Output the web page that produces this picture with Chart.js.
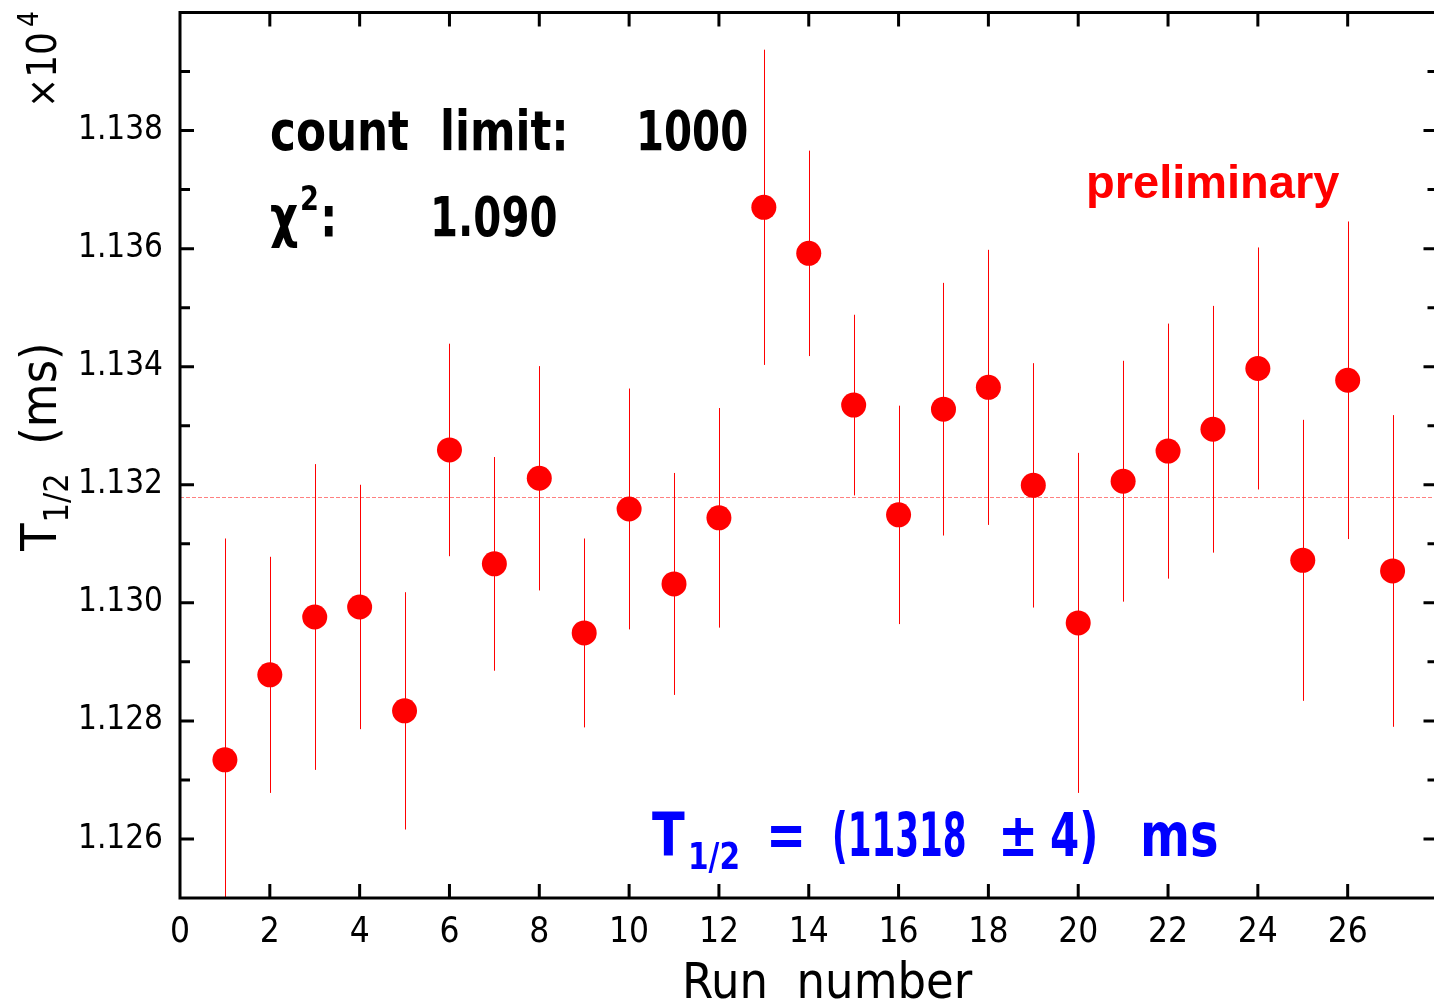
<!DOCTYPE html>
<html>
<head>
<meta charset="utf-8">
<script src="https://cdn.jsdelivr.net/npm/chart.js@4/dist/chart.umd.min.js"></script>
<style>
  html, body { margin: 0; padding: 0; background: #fff; overflow: hidden; }
  #wrap { width: 1434px; height: 1004px; overflow: hidden; position: relative; }
  #wrap canvas { position: absolute; left: 0; top: 0; }
</style>
</head>
<body>
<div id="wrap"><canvas id="c" width="1450" height="1004"></canvas></div>
<script>
// Half-life per run, in units of 10^4 ms
const runs = [1,2,3,4,5,6,7,8,9,10,11,12,13,14,15,16,17,18,19,20,21,22,23,24,25,26,27];
const halfLife = [1.12734,1.12878,1.12976,1.12993,1.12817,1.13259,1.13066,1.13211,1.12949,1.13159,
                  1.13032,1.13144,1.13670,1.13592,1.13335,1.13149,1.13328,1.13365,1.13199,1.12966,
                  1.13206,1.13257,1.13294,1.13397,1.13072,1.13377,1.13054];
const halfLifeErr = [0.00375,0.00200,0.00259,0.00207,0.00201,0.00180,0.00181,0.00190,0.00160,0.00204,
                     0.00188,0.00186,0.00267,0.00174,0.00153,0.00185,0.00214,0.00233,0.00207,0.00288,
                     0.00204,0.00216,0.00209,0.00205,0.00238,0.00269,0.00264];
const meanHalfLife = 1.1318;

const xTicks = [0,2,4,6,8,10,12,14,16,18,20,22,24,26];
const yTicks = [1.126,1.128,1.130,1.132,1.134,1.136,1.138];
const yMinorTicks = [1.127,1.129,1.131,1.133,1.135,1.137,1.139];

const AXIS_FONT = "'Liberation Sans Narrow', 'DejaVu Sans Condensed', sans-serif";
const NOTE_FONT = "'DejaVu Sans', sans-serif";

// text drawn with a horizontal squeeze
function squeezed(ctx, text, x, y, font, sx) {
  ctx.save();
  ctx.font = font;
  ctx.translate(x, y);
  ctx.scale(sx, 1);
  ctx.fillText(text, 0, 0);
  const w = ctx.measureText(text).width * sx;
  ctx.restore();
  return w;
}

const frameAndNotes = {
  id: 'frameAndNotes',
  beforeDatasetsDraw(chart) {
    const {ctx, chartArea: a, scales: {x, y}} = chart;
    ctx.save();
    ctx.beginPath();
    ctx.rect(a.left, a.top, a.right - a.left, a.bottom - a.top);
    ctx.clip();
    // mean value line
    const ym = Math.round(y.getPixelForValue(meanHalfLife)) + 0.5;
    ctx.strokeStyle = '#ff8080';
    ctx.lineWidth = 1;
    ctx.setLineDash([4, 2]);
    ctx.beginPath();
    ctx.moveTo(a.left, ym);
    ctx.lineTo(a.right, ym);
    ctx.stroke();
    ctx.setLineDash([]);
    // error bars
    ctx.strokeStyle = '#ff0000';
    ctx.lineWidth = 1;
    runs.forEach((r, i) => {
      const px = Math.round(x.getPixelForValue(r)) + 0.5;
      ctx.beginPath();
      ctx.moveTo(px, y.getPixelForValue(halfLife[i] + halfLifeErr[i]));
      ctx.lineTo(px, y.getPixelForValue(halfLife[i] - halfLifeErr[i]));
      ctx.stroke();
    });
    ctx.restore();
  },
  afterDraw(chart) {
    const {ctx, chartArea: a, scales: {x, y}} = chart;
    ctx.save();
    // frame
    ctx.strokeStyle = '#000';
    ctx.lineWidth = 3;
    ctx.strokeRect(a.left, a.top, a.right - a.left, a.bottom - a.top);
    // tick marks pointing inwards
    ctx.beginPath();
    xTicks.forEach(v => {
      if (v === 0) return;
      const px = x.getPixelForValue(v);
      ctx.moveTo(px, a.bottom); ctx.lineTo(px, a.bottom - 14);
      ctx.moveTo(px, a.top); ctx.lineTo(px, a.top + 14);
    });
    yTicks.forEach(v => {
      const py = y.getPixelForValue(v);
      ctx.moveTo(a.left, py); ctx.lineTo(a.left + 14, py);
      ctx.moveTo(a.right, py); ctx.lineTo(a.right - 14, py);
    });
    yMinorTicks.forEach(v => {
      const py = y.getPixelForValue(v);
      ctx.moveTo(a.left, py); ctx.lineTo(a.left + 10, py);
      ctx.moveTo(a.right, py); ctx.lineTo(a.right - 10, py);
    });
    ctx.stroke();

    // axis titles
    ctx.fillStyle = '#000';
    ctx.textBaseline = 'alphabetic';
    ctx.textAlign = 'left';
    ctx.font = `50px ${AXIS_FONT}`;
    ctx.fillText('Run  number', 682, 998);

    // vertical title T_{1/2} (ms)
    ctx.save();
    ctx.translate(56, 551);
    ctx.rotate(-Math.PI / 2);
    ctx.font = `50px ${AXIS_FONT}`;
    ctx.fillText('T', 0, 0);
    let w = ctx.measureText('T').width;
    ctx.font = `34px ${AXIS_FONT}`;
    ctx.fillText('1/2', w + 1, 12);
    w += ctx.measureText('1/2').width + 1;
    ctx.font = `50px ${AXIS_FONT}`;
    ctx.fillText('  (ms)', w, 0);
    ctx.restore();

    // exponent label
    ctx.save();
    ctx.translate(56, 108);
    ctx.rotate(-Math.PI / 2);
    ctx.font = `40px ${AXIS_FONT}`;
    ctx.fillText('×10', 0, 0);
    w = ctx.measureText('×10').width;
    ctx.font = `28px ${AXIS_FONT}`;
    ctx.fillText('4', w + 5, -18);
    ctx.restore();

    // fit notes
    ctx.fillStyle = '#000';
    const bold = s => `bold ${s}px ${NOTE_FONT}`;
    squeezed(ctx, 'count', 270, 150, bold(56), 0.78);
    squeezed(ctx, 'limit:', 440, 150, bold(56), 0.78);
    squeezed(ctx, '1000', 636, 150, bold(56), 0.72);
    squeezed(ctx, 'χ', 270, 236, bold(56), 0.78);
    squeezed(ctx, '2', 300, 210, bold(34), 0.8);
    squeezed(ctx, ':', 320, 236, bold(56), 0.78);
    squeezed(ctx, '1.090', 430, 236, bold(56), 0.72);

    ctx.fillStyle = '#ff0000';
    ctx.font = `bold 47px 'Liberation Sans', Arial, sans-serif`;
    ctx.fillText('preliminary', 1086, 198);

    ctx.fillStyle = '#0000ff';
    squeezed(ctx, 'T', 652, 856, bold(60), 0.8);
    squeezed(ctx, '1/2', 688, 869, bold(38), 0.78);
    squeezed(ctx, '=', 766, 856, bold(60), 0.8);
    squeezed(ctx, '(11318', 832, 856, bold(60), 0.57);
    squeezed(ctx, '±', 998, 856, bold(60), 0.8);
    squeezed(ctx, '4)', 1050, 856, bold(60), 0.7);
    squeezed(ctx, 'ms', 1140, 856, bold(60), 0.8);
    ctx.restore();
  }
};

new Chart(document.getElementById('c'), {
  type: 'scatter',
  data: {
    datasets: [{
      data: runs.map((r, i) => ({x: r, y: halfLife[i]})),
      backgroundColor: '#ff0000',
      borderColor: '#ff0000',
      borderWidth: 0,
      pointRadius: 12.5,
      pointHoverRadius: 12.5
    }]
  },
  options: {
    responsive: false,
    animation: false,
    events: [],
    layout: { padding: { top: 12, right: 3, left: 0, bottom: 0 } },
    plugins: { legend: { display: false }, tooltip: { enabled: false } },
    scales: {
      x: {
        type: 'linear', min: 0, max: 28,
        grid: { display: false, drawTicks: false },
        border: { display: false },
        afterFit(s) { s.height = 106; s.paddingLeft = 0; s.paddingRight = 0; },
        afterBuildTicks(s) { s.ticks = xTicks.map(v => ({value: v})); },
        ticks: { color: '#000', padding: 14, maxRotation: 0, autoSkip: false,
                 font: { family: AXIS_FONT, size: 35 }, callback: v => String(v) }
      },
      y: {
        type: 'linear', min: 1.125, max: 1.140,
        grid: { display: false, drawTicks: false },
        border: { display: false },
        afterFit(s) { s.width = 180; s.paddingTop = 0; s.paddingBottom = 0; },
        afterBuildTicks(s) { s.ticks = yTicks.map(v => ({value: v})); },
        ticks: { color: '#000', padding: 17, autoSkip: false,
                 font: { family: AXIS_FONT, size: 33 }, callback: v => v.toFixed(3) }
      }
    }
  },
  plugins: [frameAndNotes]
});
</script>
</body>
</html>
